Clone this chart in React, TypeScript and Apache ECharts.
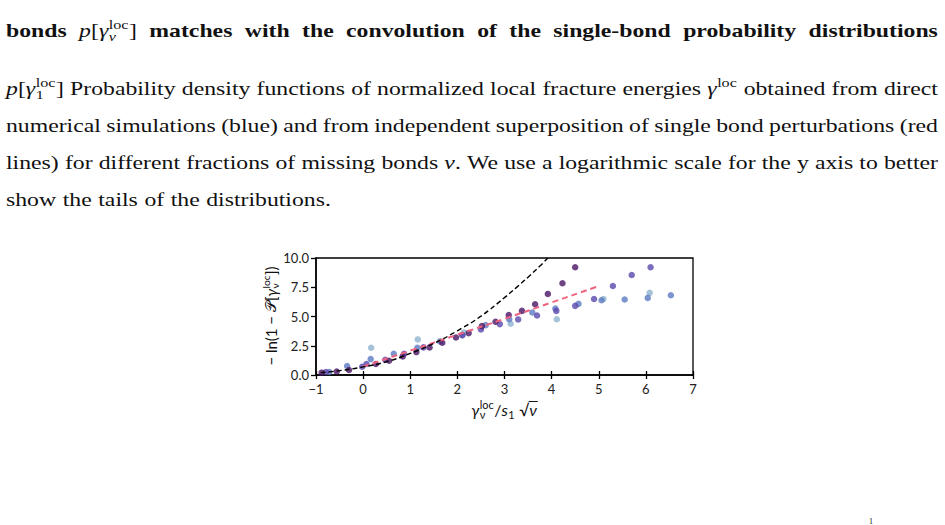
import React, { useEffect, useRef } from "react";
import * as echarts from "echarts";

// ---------- data ----------
const xTickValues = [-1, 0, 1, 2, 3, 4, 5, 6, 7];
const yTickValues = [0, 2.5, 5, 7.5, 10];

const darkX = [-0.88, -0.56, -0.3, 0.27, 0.55, 0.84, 1.13, 1.41, 1.68, 1.97, 2.24, 2.52, 2.81, 3.09, 3.37, 3.65, 3.92, 4.23, 4.5];
const darkY = [0.2, 0.3, 0.43, 0.94, 1.22, 1.59, 1.96, 2.36, 2.76, 3.21, 3.58, 4.18, 4.55, 5.12, 5.48, 6.05, 6.93, 7.84, 9.21];

const purpleX = [-0.79, -0.02, 0.07, 0.47, 0.87, 1.28, 2.1, 2.5, 2.9, 3.29, 3.69, 4.1, 4.5, 4.9, 5.3, 5.7, 6.1];
const purpleY = [0.26, 0.7, 0.94, 1.3, 1.82, 2.36, 3.41, 3.89, 4.35, 4.75, 5.09, 5.48, 5.91, 6.5, 7.61, 8.55, 9.21];

const blueX = [-0.72, -0.34, 0.16, 0.65, 1.15, 1.63, 2.11, 2.6, 3.1, 3.59, 4.08, 4.57, 5.06, 5.55, 6.04, 6.53];
const blueY = [0.26, 0.77, 1.36, 1.82, 2.33, 2.87, 3.41, 4.26, 4.77, 5.34, 5.68, 6.08, 6.39, 6.45, 6.59, 6.82];

const lightX = [0.17, 1.16, 2.14, 3.13, 4.11, 5.1, 6.08];
const lightY = [2.33, 3.04, 3.64, 4.38, 4.77, 6.5, 7.02];

const blackX = [-0.9, -0.5, 0, 0.5, 1, 1.5, 2, 2.5, 3, 3.25, 3.5, 3.75, 3.92];
const blackY = [0.2, 0.37, 0.69, 1.14, 1.84, 2.7, 3.78, 5.03, 6.61, 7.47, 8.36, 9.31, 10.0];

const redX = [0, 1, 2, 3, 4, 5];
const redY = [0.72, 2.08, 3.45, 4.8, 6.2, 7.6];

// ---------- text ----------
type P = { t?: string; it?: boolean; sub?: string; subIt?: boolean; sup?: string; over?: boolean; fam?: string };
type Word = string | P[];

const mathPNu: P[] = [{ t: "p", it: true }, { t: "[" }, { t: "γ", it: true }, { sub: "ν", subIt: true, sup: "loc" }, { t: "]" }];
const mathP1: P[] = [{ t: "p", it: true }, { t: "[" }, { t: "γ", it: true }, { sub: "1", sup: "loc" }, { t: "]" }];
const mathGamma: P[] = [{ t: "γ", it: true }, { sup: "loc" }];
const mathNu: P[] = [{ t: "ν", it: true }, { t: "." }];

const line1: Word[] = ["bonds", mathPNu, "matches", "with", "the", "convolution", "of", "the", "single-bond", "probability", "distributions"];
const line2: Word[] = [mathP1, "Probability", "density", "functions", "of", "normalized", "local", "fracture", "energies", mathGamma, "obtained", "from", "direct"];
const line3: Word[] = ["numerical", "simulations", "(blue)", "and", "from", "independent", "superposition", "of", "single", "bond", "perturbations", "(red"];
const line4: Word[] = ["lines)", "for", "different", "fractions", "of", "missing", "bonds", mathNu, "We", "use", "a", "logarithmic", "scale", "for", "the", "y", "axis", "to", "better"];
const line5: Word[] = ["show", "the", "tails", "of", "the", "distributions."];

const yLabel: P[] = [{ t: "− ln(1 − " }, { t: "𝒫", fam: "'DejaVu Sans', 'Noto Sans', sans-serif" }, { t: "[" }, { t: "γ", it: true }, { sub: "ν", sup: "loc" }, { t: "])" }];
const xLabel: P[] = [{ t: "γ", it: true }, { sub: "ν", sup: "loc" }, { t: "/" }, { t: "s", it: true }, { sub: "1" }, { t: " √" }, { t: "ν", it: true, over: true }];

const SERIF = "'Liberation Serif', 'Times New Roman', serif";
const SANS = "Lato, 'DejaVu Sans', sans-serif";

let ctx: CanvasRenderingContext2D | null = null;
function measure(t: string, style: string, weight: string, size: number, fam: string) {
  if (!ctx) ctx = document.createElement("canvas").getContext("2d");
  ctx!.font = `${style} ${weight} ${size}px ${fam}`;
  return ctx!.measureText(t).width;
}

function textEl(t: string, x: number, base: number, size: number, fam: string, st: string, wt: string, color: string, sx = 1) {
  return {
    type: "text",
    x,
    y: base - 0.3 * size,
    scaleX: sx,
    silent: true,
    style: {
      text: t,
      fontSize: size,
      fontFamily: fam,
      fontStyle: st,
      fontWeight: wt,
      fill: color,
      align: "left",
      textAlign: "left",
      verticalAlign: "middle",
      textVerticalAlign: "middle",
    },
  };
}

function runLayout(pieces: P[], size: number, fam: string, weight: string, color: string, x0: number, base: number, out: any[] | null, sx = 1) {
  let x = x0;
  for (const p of pieces) {
    if (p.t !== undefined) {
      const f = p.fam || fam;
      const st = p.it ? "italic" : "normal";
      const w = measure(p.t, st, weight, size, f) * sx;
      if (out) {
        out.push(textEl(p.t, x, base, size, f, st, weight, color, sx));
        if (p.over) {
          out.push({
            type: "line",
            silent: true,
            shape: { x1: x - 0.5, y1: base - 0.78 * size, x2: x + w + 1, y2: base - 0.78 * size },
            style: { stroke: color, lineWidth: 1 },
          });
        }
      }
      x += w;
    } else {
      const s2 = size * 0.68;
      let w1 = 0;
      let w2 = 0;
      if (p.sub) {
        const st = p.subIt ? "italic" : "normal";
        w1 = measure(p.sub, st, "normal", s2, fam) * sx;
        if (out) out.push(textEl(p.sub, x + 0.5, base + 0.22 * size, s2, fam, st, "normal", color, sx));
      }
      if (p.sup) {
        w2 = measure(p.sup, "normal", "normal", s2, fam) * sx;
        if (out) out.push(textEl(p.sup, x + 0.5, base - 0.42 * size, s2, fam, "normal", "normal", color, sx));
      }
      x += Math.max(w1, w2) + size * 0.06;
    }
  }
  return x - x0;
}

function wordPieces(w: Word): P[] {
  return typeof w === "string" ? [{ t: w }] : w;
}

function layoutLine(words: Word[], size: number, sx: number, bold: boolean, L: number, R: number, base: number, justify: boolean, out: any[]) {
  const wt = (w: Word) => (typeof w === "string" && bold ? "bold" : "normal");
  const widths = words.map((w) => runLayout(wordPieces(w), size, SERIF, wt(w), "#111", 0, 0, null, sx));
  const total = widths.reduce((a, b) => a + b, 0);
  const gap = justify ? (R - L - total) / (words.length - 1) : measure(" ", "normal", bold ? "bold" : "normal", size, SERIF) * sx * 1.1;
  let x = L;
  words.forEach((w, i) => {
    runLayout(wordPieces(w), size, SERIF, wt(w), "#111", x, base, out, sx);
    x += widths[i] + gap;
  });
}

export default function App() {
  const ref = useRef<HTMLDivElement>(null);
  useEffect(() => {
    const chart = echarts.init(ref.current!, null, { renderer: "svg" });
    const els: any[] = [];
    const L = 6;
    const R = 938;
    const fs = 18.5;
    // horizontal scale so that the last (unjustified) line spans its width in the reference
    const natural = line5.reduce<number>((a, w) => a + runLayout(wordPieces(w), fs, SERIF, "normal", "#111", 0, 0, null, 1), 0)
      + (line5.length - 1) * measure(" ", "normal", "normal", fs, SERIF) * 1.1;
    const sx = Math.min(1.35, Math.max(1, 325 / natural));
    layoutLine(line1, fs, sx, true, L, R, 36, true, els);
    layoutLine(line2, fs, sx, false, L, R, 94, true, els);
    layoutLine(line3, fs, sx, false, L, R, 131, true, els);
    layoutLine(line4, fs, sx, false, L, R, 168, true, els);
    layoutLine(line5, fs, sx, false, L, R, 205, false, els);

    // x-axis label
    const xs = 16;
    const xw = runLayout(xLabel, xs, SANS, "normal", "#111", 0, 0, null);
    runLayout(xLabel, xs, SANS, "normal", "#111", 504 - xw / 2, 414, els);

    // y-axis label (rotated)
    const ys = 15;
    const yw = runLayout(yLabel, ys, SANS, "normal", "#111", 0, 0, null);
    const ych: any[] = [];
    runLayout(yLabel, ys, SANS, "normal", "#111", -yw / 2, 0.35 * ys, ych);
    els.push({ type: "group", x: 270, y: 316, rotation: Math.PI / 2, children: ych });

    // footnote mark
    els.push(textEl("1", 869, 524, 8, SERIF, "normal", "normal", "#222"));

    const zip = (a: number[], b: number[]) => a.map((v, i) => [v, b[i]]);
    const scatter = (name: string, xsA: number[], ysA: number[], color: string) => ({
      type: "scatter",
      name,
      data: zip(xsA, ysA),
      symbolSize: 6.5,
      itemStyle: { color },
      clip: true,
    });

    const fmtX = (v: number) => (v < 0 ? "−" + Math.abs(v) : String(v));
    const labelStyle = { fontFamily: SANS, fontSize: 13, color: "#222" };

    chart.setOption({
      animation: false,
      backgroundColor: "#fff",
      grid: { left: 316, top: 258, width: 377, height: 117, show: true, borderColor: "#000", borderWidth: 1.3 },
      xAxis: [
        {
          type: "value",
          min: -1,
          max: 7,
          interval: 1,
          axisLine: { onZero: false, lineStyle: { color: "#000", width: 1.5 } },
          axisTick: { length: 4, lineStyle: { color: "#000", width: 1.3 } },
          axisLabel: { ...labelStyle, margin: 7, formatter: fmtX },
          splitLine: { show: false },
        },
        {
          type: "value",
          min: -1,
          max: 7,
          interval: 1,
          position: "bottom",
          axisLine: { show: false, onZero: false },
          axisTick: { inside: true, length: 4, lineStyle: { color: "#000", width: 1.3 } },
          axisLabel: { show: false },
          splitLine: { show: false },
        },
      ],
      yAxis: {
        type: "value",
        min: 0,
        max: 10,
        interval: 2.5,
        axisLine: { show: true, onZero: false, lineStyle: { color: "#000", width: 1.5 } },
        axisTick: { show: true, length: 5, lineStyle: { color: "#000", width: 1.3 } },
        axisLabel: { ...labelStyle, margin: 7, formatter: (v: number) => v.toFixed(1) },
        splitLine: { show: false },
      },
      series: [
        scatter("light", lightX, lightY, "#8fb4ce"),
        scatter("blue", blueX, blueY, "#5c7bc2"),
        scatter("purple", purpleX, purpleY, "#5b47ad"),
        scatter("dark", darkX, darkY, "#4a1465"),
        {
          type: "line",
          data: zip(redX, redY),
          showSymbol: false,
          smooth: true,
          lineStyle: { color: "#f0637e", width: 2, type: [6, 4] },
          z: 3,
        },
        {
          type: "line",
          data: zip(blackX, blackY),
          showSymbol: false,
          smooth: true,
          clip: true,
          lineStyle: { color: "#000", width: 1.4, type: [5, 3] },
          z: 4,
        },
      ],
      graphic: els,
    });
    return () => chart.dispose();
  }, []);
  return <div ref={ref} style={{ position: "fixed", left: 0, top: 0, width: 945, height: 525, background: "#fff" }} />;
}
